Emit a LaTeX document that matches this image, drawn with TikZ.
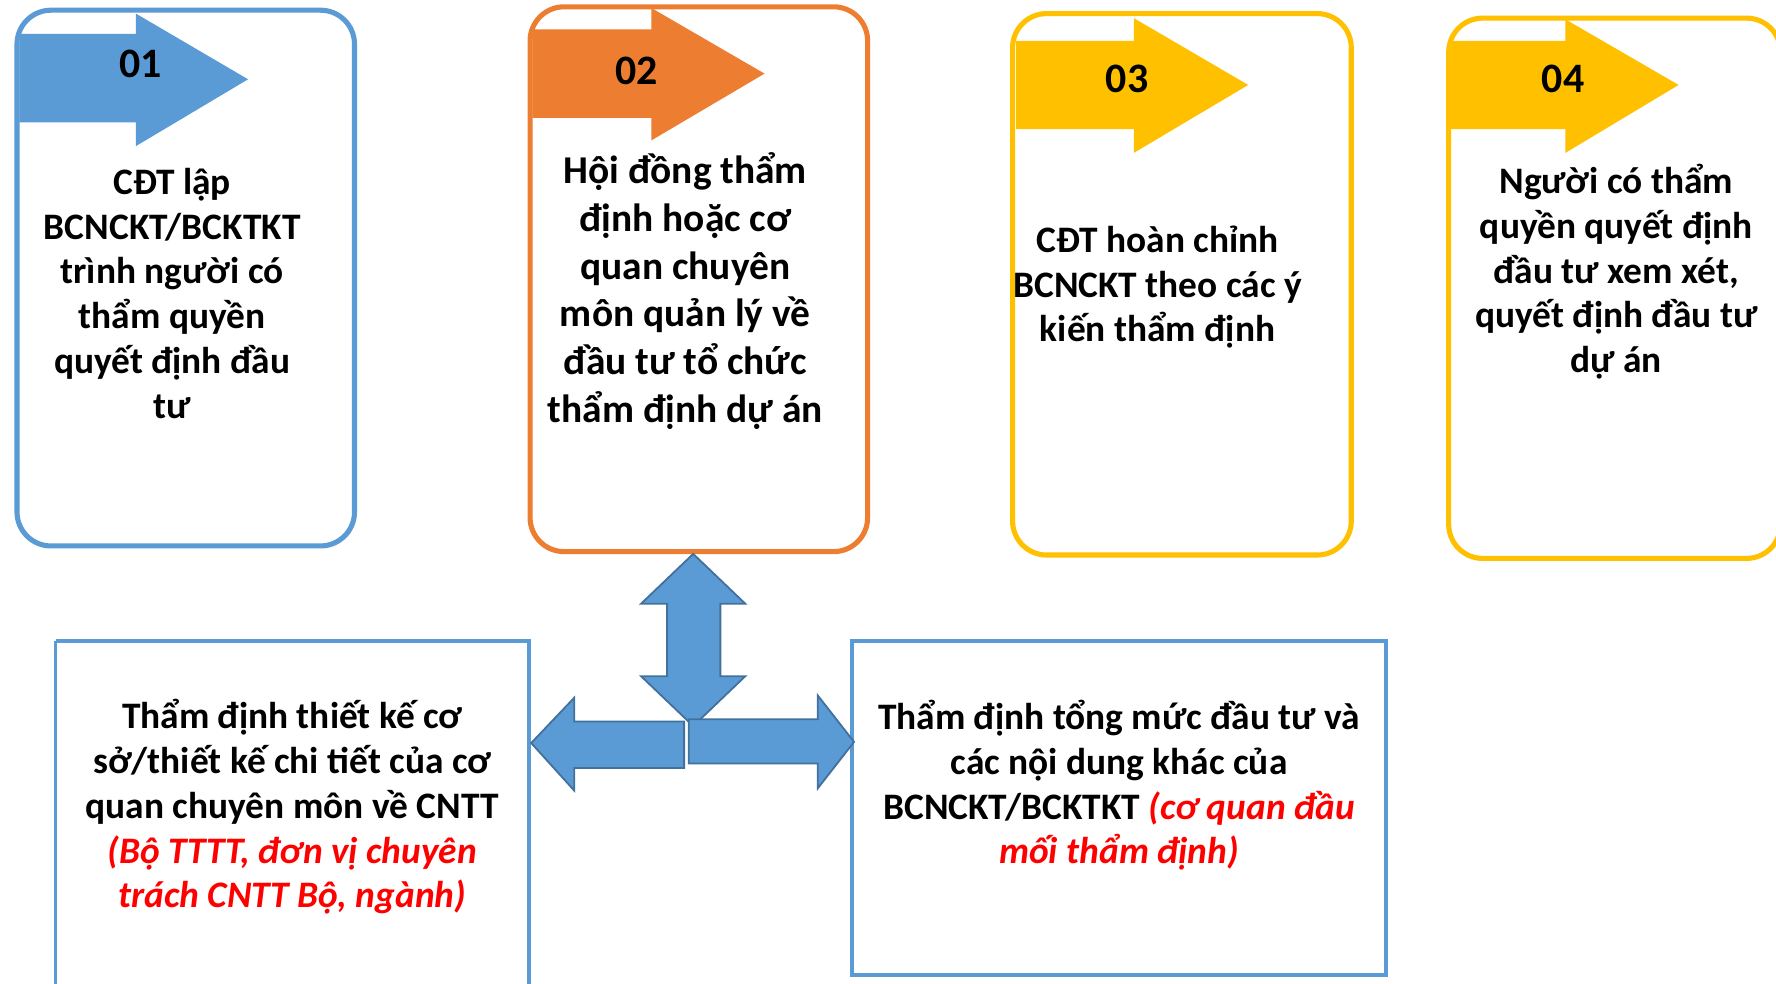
\documentclass[tikz,border=0pt]{standalone}
\usepackage{fontspec}
\setmainfont{Carlito}
\definecolor{cblue}{HTML}{5B9BD5}
\definecolor{cbluedark}{HTML}{41719C}
\definecolor{corange}{HTML}{ED7D31}
\definecolor{cyellow}{HTML}{FFC000}
\definecolor{cred}{HTML}{FF0000}
\begin{document}
\begin{tikzpicture}[x=1pt,y=-1pt,
  topbox/.style={line width=4.5pt, rounded corners=30pt},
  botbox/.style={draw=cblue, line width=3.5pt},
  blockarrow/.style={fill=cblue, draw=cbluedark, line width=1.6pt, line join=miter},
  txt/.style={align=center, inner sep=0pt, font=\fontsize{33}{39.5}\selectfont\bfseries},
  txtb/.style={align=center, inner sep=0pt, font=\fontsize{34.8}{42.2}\selectfont\bfseries},
  num/.style={inner sep=0pt, font=\fontsize{37}{40}\selectfont\bfseries}
]
\useasboundingbox (0,0) rectangle (1568,868);
\fill[white] (0,0) rectangle (1568,868);

% top boxes
\draw[topbox, draw=cblue] (15,9) rectangle (313,482);
\draw[topbox, draw=corange] (468,6) rectangle (766,487);
\draw[topbox, draw=cyellow] (894,12) rectangle (1193,490);
\draw[topbox, draw=cyellow] (1279,16) rectangle (1572,493);

% step arrows
\fill[cblue] (17,30) -- (120,30) -- (120,12) -- (219,70) -- (120,129) -- (120,108) -- (17,108) -- cycle;
\fill[corange] (470,26) -- (575,26) -- (575,7) -- (675,65) -- (575,124) -- (575,104) -- (470,104) -- cycle;
\fill[cyellow] (897,36) -- (1001,36) -- (1001,16) -- (1102,75) -- (1001,135) -- (1001,114) -- (897,114) -- cycle;
\fill[cyellow] (1281,36) -- (1382,36) -- (1382,17) -- (1482,75) -- (1382,135) -- (1382,114) -- (1281,114) -- cycle;

\node[num] (n1) at (124,56) {01};
\node[num] (n2) at (562,63) {02};
\node[num] (n3) at (995,70) {03};
\node[num] (n4) at (1380,70) {04};

% texts of top boxes
\node[txt] (t1) at (152,259) {CĐT lập\\BCNCKT/BCKTKT\\trình người có\\thẩm quyền\\quyết định đầu\\tư};
\node[txtb] (t2) at (605,257) {Hội đồng thẩm\\định hoặc cơ\\quan chuyên\\môn quản lý về\\đầu tư tổ chức\\thẩm định dự án};
\node[txt] (t3) at (1022,253.5) {CĐT hoàn chỉnh\\BCNCKT theo các ý\\kiến thẩm định};
\node[txt] (t4) at (1427,240) {Người có thẩm\\quyền quyết định\\đầu tư xem xét,\\quyết định đầu tư\\dự án};

% bottom boxes
\draw[botbox] (49,566) -- (49,890) (49,566) -- (467,566) -- (467,890);
\draw[botbox] (752,566) rectangle (1224,861);

\node[txt] (t5) at (258,712.5) {Thẩm định thiết kế cơ\\sở/thiết kế chi tiết của cơ\\quan chuyên môn về CNTT\\{\color{cred}\itshape (Bộ TTTT, đơn vị chuyên}\\{\color{cred}\itshape trách CNTT Bộ, ngành)}};
\node[txt] (t6) at (988,693.5) {Thẩm định tổng mức đầu tư và\\các nội dung khác của\\BCNCKT/BCKTKT {\color{cred}\itshape (cơ quan đầu}\\{\color{cred}\itshape mối thẩm định)}};

% block arrows
\draw[blockarrow] (612,489) -- (658,533) -- (636,533) -- (636,597) -- (658,597) -- (612,641) -- (566,597) -- (589,597) -- (589,533) -- (566,533) -- cycle;
\draw[blockarrow] (604,637) -- (507,637) -- (507,616) -- (469,656) -- (507,698) -- (507,678) -- (604,678) -- cycle;
\draw[blockarrow] (608,635) -- (722,635) -- (722,614) -- (754,655) -- (722,696) -- (722,674) -- (608,674) -- cycle;
\end{tikzpicture}
\end{document}
